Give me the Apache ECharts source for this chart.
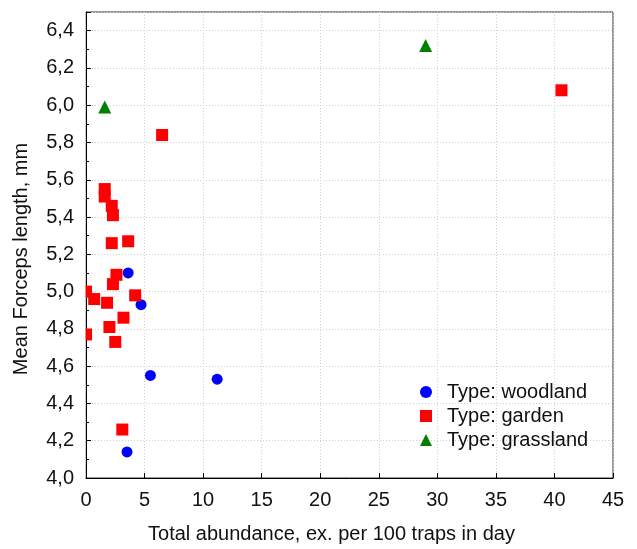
<!DOCTYPE html>
<html>
<head>
<meta charset="utf-8">
<script src="https://cdn.jsdelivr.net/npm/echarts@6/dist/echarts.min.js"></script>
<style>
  html, body { margin: 0; padding: 0; background: #fff; }
  #chart { width: 637px; height: 549px; }
</style>
</head>
<body>
<div id="chart"></div>
<script>
// Total abundance (ex. per 100 traps in day) and mean forceps length (mm) per site
const woodlandX = [3.6, 4.7, 5.5, 11.2, 3.5];
const woodlandY = [5.10, 4.93, 4.55, 4.53, 4.14];

const gardenX = [40.6, 6.5, 1.6, 1.6, 2.2, 2.3, 2.2, 3.6, 2.6, 2.3, 0.0, 0.7, 1.8, 4.2, 3.2, 2.0, 0.0, 2.5, 3.1];
const gardenY = [6.08, 5.84, 5.55, 5.51, 5.46, 5.41, 5.26, 5.27, 5.09, 5.04, 5.00, 4.96, 4.94, 4.98, 4.86, 4.81, 4.77, 4.73, 4.26];

const grasslandX = [1.6, 29.0];
const grasslandY = [5.99, 6.32];

const seriesNames = ['Type: woodland', 'Type: garden', 'Type: grassland'];
const xTitle = 'Total abundance, ex. per 100 traps in day';
const yTitle = 'Mean Forceps length, mm';

const FONT = "'Liberation Sans', Arial, sans-serif";
const zip = (xs, ys) => xs.map((x, i) => [x, ys[i]]);

const chart = echarts.init(document.getElementById('chart'), null, { renderer: 'canvas' });

const gridLine = { show: true, lineStyle: { color: '#cfcfcf', width: 1, type: [1, 2] } };

chart.setOption({
  animation: false,
  backgroundColor: '#ffffff',
  grid: {
    left: 86, top: 12, right: 24, bottom: 69,
    show: true, borderColor: '#333', borderWidth: 1, backgroundColor: 'transparent'
  },
  xAxis: {
    type: 'value',
    min: 0, max: 45, interval: 5,
    name: xTitle,
    nameLocation: 'middle',
    nameGap: 46,
    nameTextStyle: { fontFamily: FONT, fontSize: 20, color: '#111', padding: [0, 36, 0, 0] },
    axisLine: { show: true, onZero: false, lineStyle: { color: '#000', width: 1 } },
    axisTick: { show: true, inside: true, length: 5, lineStyle: { color: '#000' } },
    axisLabel: { fontFamily: FONT, fontSize: 20, color: '#111', margin: 12 },
    splitLine: gridLine
  },
  yAxis: {
    type: 'value',
    min: 4.0, max: 6.5, interval: 0.2,
    name: yTitle,
    nameLocation: 'middle',
    nameGap: 55,
    nameRotate: 90,
    nameTextStyle: { fontFamily: FONT, fontSize: 20, color: '#111', padding: [0, 28, 0, 0] },
    axisLine: { show: true, onZero: false, lineStyle: { color: '#000', width: 1 } },
    axisTick: { show: true, inside: true, length: 5, lineStyle: { color: '#000' } },
    minorTick: { show: true, splitNumber: 2, length: 3, lineStyle: { color: '#000' } },
    axisLabel: {
      fontFamily: FONT, fontSize: 20, color: '#111', margin: 12,
      formatter: v => (v > 6.45 ? '' : v.toFixed(1).replace('.', ','))
    },
    splitLine: gridLine
  },
  legend: {
    orient: 'vertical',
    left: 415, top: 377,
    itemWidth: 12, itemHeight: 12, itemGap: 4,
    textStyle: { fontFamily: FONT, fontSize: 20, color: '#111', padding: [0, 0, 0, 10] },
    data: seriesNames
  },
  series: [
    {
      name: seriesNames[0], type: 'scatter', symbol: 'circle', symbolSize: 11,
      itemStyle: { color: '#0000ff', opacity: 1 },
      data: zip(woodlandX, woodlandY)
    },
    {
      name: seriesNames[1], type: 'scatter', symbol: 'rect', symbolSize: 12,
      itemStyle: { color: '#ff0000', opacity: 1 },
      data: zip(gardenX, gardenY)
    },
    {
      name: seriesNames[2], type: 'scatter', symbol: 'triangle', symbolSize: 13,
      itemStyle: { color: '#008000', opacity: 1 },
      data: zip(grasslandX, grasslandY)
    }
  ]
});

// Hide the parts of symbols that spill left of the plot area (x < 0)
const bl = chart.convertToPixel({ gridIndex: 0 }, [0, 4.0]);
const tl = chart.convertToPixel({ gridIndex: 0 }, [0, 6.5]);
chart.setOption({
  graphic: [{
    type: 'rect', z: 100, silent: true,
    shape: { x: bl[0] - 9, y: tl[1] + 1, width: 8.5, height: bl[1] - tl[1] - 1 },
    style: { fill: '#ffffff' }
  }]
});
</script>
</body>
</html>
